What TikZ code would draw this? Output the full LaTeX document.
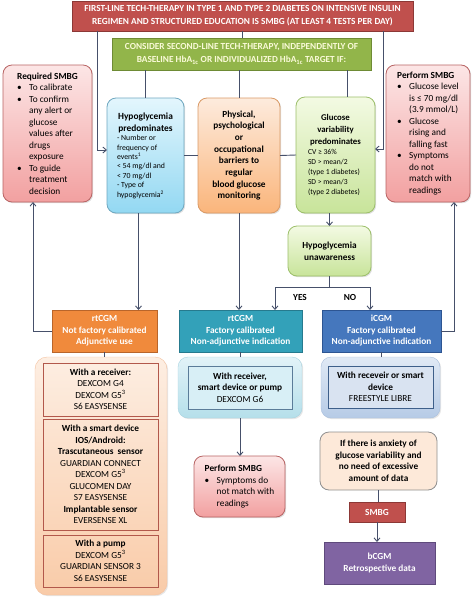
\documentclass[tikz,border=0pt]{standalone}
\usepackage{fontspec}
\setmainfont{Carlito}
\usetikzlibrary{arrows.meta,shadows}
\definecolor{redc}{HTML}{C0504D}\definecolor{redd}{HTML}{8C3836}
\definecolor{greenc}{HTML}{92B54A}\definecolor{greend}{HTML}{6E8B35}
\definecolor{greentxt}{HTML}{FAFAD8}
\definecolor{orc}{HTML}{F08A3C}\definecolor{ord}{HTML}{B9652A}
\definecolor{tealc}{HTML}{33A1B9}\definecolor{teald}{HTML}{267A8E}
\definecolor{bluec}{HTML}{4577BD}\definecolor{blued}{HTML}{2D5592}
\definecolor{purc}{HTML}{8064A2}\definecolor{purd}{HTML}{5F4A7C}
\definecolor{pinktop}{HTML}{FCE6E6}\definecolor{pinkbot}{HTML}{F2A0A0}\definecolor{pinkd}{HTML}{B86464}
\definecolor{cyantop}{HTML}{E3F6FD}\definecolor{cyanbot}{HTML}{93D8F2}\definecolor{cyand}{HTML}{6FA8C0}
\definecolor{ortop}{HTML}{FDEBDD}\definecolor{orbot}{HTML}{FAB57B}\definecolor{ord2}{HTML}{D99A66}
\definecolor{grtop}{HTML}{F3FAE3}\definecolor{grbot}{HTML}{C8E49A}\definecolor{grd}{HTML}{9CBF6A}
\definecolor{linec}{HTML}{46506A}
\definecolor{octop}{HTML}{FDEEE2}\definecolor{ocbot}{HTML}{F9CBA8}\definecolor{ocd}{HTML}{F4C19F}\definecolor{oind}{HTML}{B2584B}
\definecolor{tctop}{HTML}{E2F3F8}\definecolor{tcbot}{HTML}{B5DFEA}\definecolor{tcd}{HTML}{A8D3E0}\definecolor{tind}{HTML}{5B7C99}\definecolor{tinf}{HTML}{D8EFF6}
\definecolor{bctop}{HTML}{E0E9F5}\definecolor{bcbot}{HTML}{B6CBE6}\definecolor{bcd}{HTML}{A9BFDD}\definecolor{bind}{HTML}{3E5F8A}\definecolor{binf}{HTML}{D9E3F1}
\definecolor{anxf}{HTML}{FDE9D9}\definecolor{anxd}{HTML}{8F8F8F}
\newcommand\mybul{\makebox[12pt][l]{\textbullet}}
\newcommand\myind{\hspace*{12pt}}
\newcommand\mybox[7]{\node[#6, minimum width={#4-#2}, minimum height={#5-#3}] (#1) at ({(#2+#4)/2},{(#3+#5)/2}) {#7};}
\tikzset{
  base/.style={outer sep=0pt, inner sep=1pt, align=center, text=black, font=\fontsize{9.3}{11.5}\selectfont},
  pale/.style={base, rounded corners=9pt, line width=0.8pt, drop shadow={opacity=0.25, shadow xshift=1.2pt, shadow yshift=-1.2pt}},
  pinkbox/.style={pale, draw=pinkd, top color=pinktop, bottom color=pinkbot, align=left},
  cyanbox/.style={pale, draw=cyand, top color=cyantop, bottom color=cyanbot},
  orbox/.style={pale, draw=ord2, top color=ortop, bottom color=orbot, font=\bfseries\fontsize{9.3}{11.7}\selectfont},
  grbox/.style={pale, draw=grd, top color=grtop, bottom color=grbot},
  solidbox/.style={base, text=white, line width=0.8pt, font=\bfseries\fontsize{9.3}{11.5}\selectfont},
  headbox/.style={solidbox, font=\bfseries\fontsize{9.3}{13}\selectfont},
  ocontst/.style={base, rounded corners=12pt, draw=ocd, top color=octop, bottom color=ocbot, drop shadow={opacity=0.2, shadow xshift=1.2pt, shadow yshift=-1.2pt}},
  tcontst/.style={base, rounded corners=10pt, draw=tcd, top color=tctop, bottom color=tcbot, drop shadow={opacity=0.2, shadow xshift=1.2pt, shadow yshift=-1.2pt}},
  bcontst/.style={base, rounded corners=10pt, draw=bcd, top color=bctop, bottom color=bcbot, drop shadow={opacity=0.2, shadow xshift=1.2pt, shadow yshift=-1.2pt}},
  innero/.style={base, draw=oind, line width=0.7pt},
  innert/.style={base, draw=tind, fill=tinf, line width=0.8pt},
  innerb/.style={base, draw=bind, fill=binf, line width=0.8pt},
  anxst/.style={base, rounded corners=9pt, draw=anxd, fill=anxf, line width=0.8pt, font=\bfseries\fontsize{9.3}{11.5}\selectfont},
  lbl/.style={base, font=\bfseries\fontsize{9.3}{10}\selectfont},
  conn/.style={draw=linec, line width=0.9pt},
  arr/.style={conn, -{Straight Barb[length=3.5pt,width=6pt]}},
}
\begin{document}
\begin{tikzpicture}[x=1pt, y=-1pt]
\useasboundingbox (0,0) rectangle (474,600);
% header boxes
\mybox{top}{72}{1}{413}{31}{headbox, fill=redc, draw=redd}{FIRST-LINE TECH-THERAPY IN TYPE 1 AND TYPE 2 DIABETES ON INTENSIVE INSULIN\\REGIMEN AND STRUCTURED EDUCATION IS SMBG (AT LEAST 4 TESTS PER DAY)}
\mybox{green}{112}{38}{371}{70}{headbox, fill=greenc, draw=greend, text=greentxt}{CONSIDER SECOND-LINE TECH-THERAPY, INDEPENDENTLY OF\\BASELINE HbA\textsubscript{1c} OR INDIVIDUALIZED HbA\textsubscript{1c} TARGET IF:}
% side boxes
\mybox{req}{3}{65}{92}{202}{pinkbox}{\textbf{Required SMBG}\\\mybul To calibrate\\\mybul To confirm\\\myind any alert or\\\myind glucose\\\myind values after\\\myind drugs\\\myind exposure\\\mybul To guide\\\myind treatment\\\myind decision}
\mybox{perf}{386}{65}{470}{202}{pinkbox}{\textbf{Perform SMBG}\\\mybul Glucose level\\\myind is ≤ 70 mg/dl\\\myind (3.9 mmol/L)\\\mybul Glucose\\\myind rising and\\\myind falling fast\\\mybul Symptoms\\\myind do not\\\myind match with\\\myind readings}
% criteria boxes
\mybox{hypo}{107}{98}{184}{213}{cyanbox}{\parbox{57pt}{\centering\bfseries\fontsize{9.4}{12}\selectfont Hypoglycemia\\predominates\par\raggedright\mdseries\fontsize{7.8}{9.4}\selectfont - Number or\\frequency of\\events\textsuperscript{1}\\< 54 mg/dl and\\< 70 mg/dl\\- Type of\\hypoglycemia\textsuperscript{2}}}
\mybox{phys}{198}{98}{280}{213}{orbox}{Physical,\\psychological\\or\\occupational\\barriers to\\regular\\blood glucose\\monitoring}
\mybox{gluc}{296}{97}{375}{213}{grbox}{\parbox{55pt}{\centering\bfseries\fontsize{8.8}{11.7}\selectfont Glucose\\variability\\predominates\par\raggedright\mdseries\fontsize{7.6}{10}\selectfont CV ≥ 36\%\\SD > mean/2\\(type 1 diabetes)\\SD > mean/3\\(type 2 diabetes)}}
\mybox{unaw}{288}{226}{371}{276}{grbox, font=\bfseries\fontsize{9.3}{12}\selectfont}{Hypoglycemia\\unawareness}
\node[lbl] (yes) at (300,297) {YES};
\node[lbl] (no) at (350,297) {NO};
% CGM type boxes
\mybox{rtnfc}{52}{310}{157}{352}{solidbox, fill=orc, draw=ord}{rtCGM\\Not factory calibrated\\Adjunctive use}
\mybox{rtfc}{179}{310}{302}{352}{solidbox, fill=tealc, draw=teald}{rtCGM\\Factory calibrated\\Non-adjunctive indication}
\mybox{icgm}{322}{310}{441}{352}{solidbox, fill=bluec, draw=blued}{iCGM\\Factory calibrated\\Non-adjunctive indication}
% containers
\mybox{ocont}{35}{357}{167}{595}{ocontst}{}
\mybox{orec}{43}{363}{158}{416}{innero}{\textbf{With a receiver:}\\DEXCOM G4\\DEXCOM G5\textsuperscript{3}\\S6 EASYSENSE}
\mybox{osmart}{43}{419}{158}{530}{innero}{\textbf{With a smart device}\\\textbf{IOS/Android:}\\\textbf{Trascutaneous\ \ sensor}\\GUARDIAN CONNECT\\DEXCOM G5\textsuperscript{3}\\GLUCOMEN DAY\\S7 EASYSENSE\\\textbf{Implantable sensor}\\EVERSENSE XL}
\mybox{opump}{43}{535}{158}{587}{innero}{\textbf{With a pump}\\DEXCOM G5\textsuperscript{3}\\GUARDIAN SENSOR 3\\S6 EASYSENSE}
\mybox{tcont}{178}{357}{302}{418}{tcontst}{}
\mybox{trec}{188}{366}{292}{409}{innert}{\textbf{With receiver,}\\\textbf{smart device or pump}\\DEXCOM G6}
\mybox{bcont}{321}{357}{440}{418}{bcontst}{}
\mybox{brec}{328}{366}{433}{408}{innerb}{\textbf{With receveir or smart}\\\textbf{device}\\FREESTYLE LIBRE}
% lower boxes
\mybox{perf2}{194}{456}{285}{517}{pinkbox}{\textbf{Perform SMBG}\\\mybul Symptoms do\\\myind not match with\\\myind readings}
\mybox{anx}{320}{432}{437}{490}{anxst}{If there is anxiety of\\glucose variability and\\no need of excessive\\amount of data}
\mybox{smbg}{349}{502}{405}{522}{solidbox, fill=redc, draw=redd}{SMBG}
\mybox{bcgm}{324}{542}{435}{584}{solidbox, fill=purc, draw=purd, font=\bfseries\fontsize{9.3}{12}\selectfont}{bCGM\\Retrospective data}
% connectors
\draw[conn] (top.south) -- (top.south |- green.north);
\coordinate (lb1) at (97,150);
\coordinate (rb1) at (383,149);
\draw[arr] (top.south -| lb1) -- (lb1) -- (lb1 -| hypo.west);
\draw[arr] (top.south -| rb1) -- (rb1) -- (rb1 -| gluc.east);
\draw[conn] (green.south -| hypo.north) -- (hypo.north);
\draw[conn] (green.south -| phys.north) -- (phys.north);
\coordinate (g3) at ([xshift=12pt]gluc.north);
\draw[conn] (green.south -| g3) -- (g3);
\draw[conn] (hypo.east) -- (phys.west);
\draw[conn] (phys.east) -- (gluc.west);
\coordinate (h1) at ([xshift=-7pt]hypo.south);
\draw[arr] (h1) -- (h1 |- rtnfc.north);
\draw[arr] (phys.south) -- (phys.south |- rtfc.north);
\draw[arr] (unaw.north |- gluc.south) -- (unaw.north);
\coordinate (ys) at (275,287);
\coordinate (ns) at (370,287);
\draw[conn] (unaw.south) -- (unaw.south |- ys);
\draw[arr] (unaw.south |- ys) -- (ys) -- (ys |- rtfc.north);
\draw[arr] (unaw.south |- ys) -- (ns) -- (ns |- icgm.north);
\coordinate (lb2) at (33,331);
\coordinate (rb2) at (454,331);
\draw[arr] (rtnfc.west) -- (rtnfc.west -| lb2) -- (lb2 |- req.south);
\draw[arr] (icgm.east) -- (icgm.east -| rb2) -- (rb2 |- perf.south);
\draw[conn] (rtnfc.south) -- (rtnfc.south |- ocont.north);
\draw[conn] (rtfc.south) -- (rtfc.south |- tcont.north);
\draw[conn] (icgm.south) -- (icgm.south |- bcont.north);
\draw[arr] (tcont.south) -- (tcont.south |- perf2.north);
\draw[conn] (anx.south) -- (anx.south |- smbg.north);
\draw[arr] (smbg.south) -- (smbg.south |- bcgm.north);
\end{tikzpicture}
\end{document}
